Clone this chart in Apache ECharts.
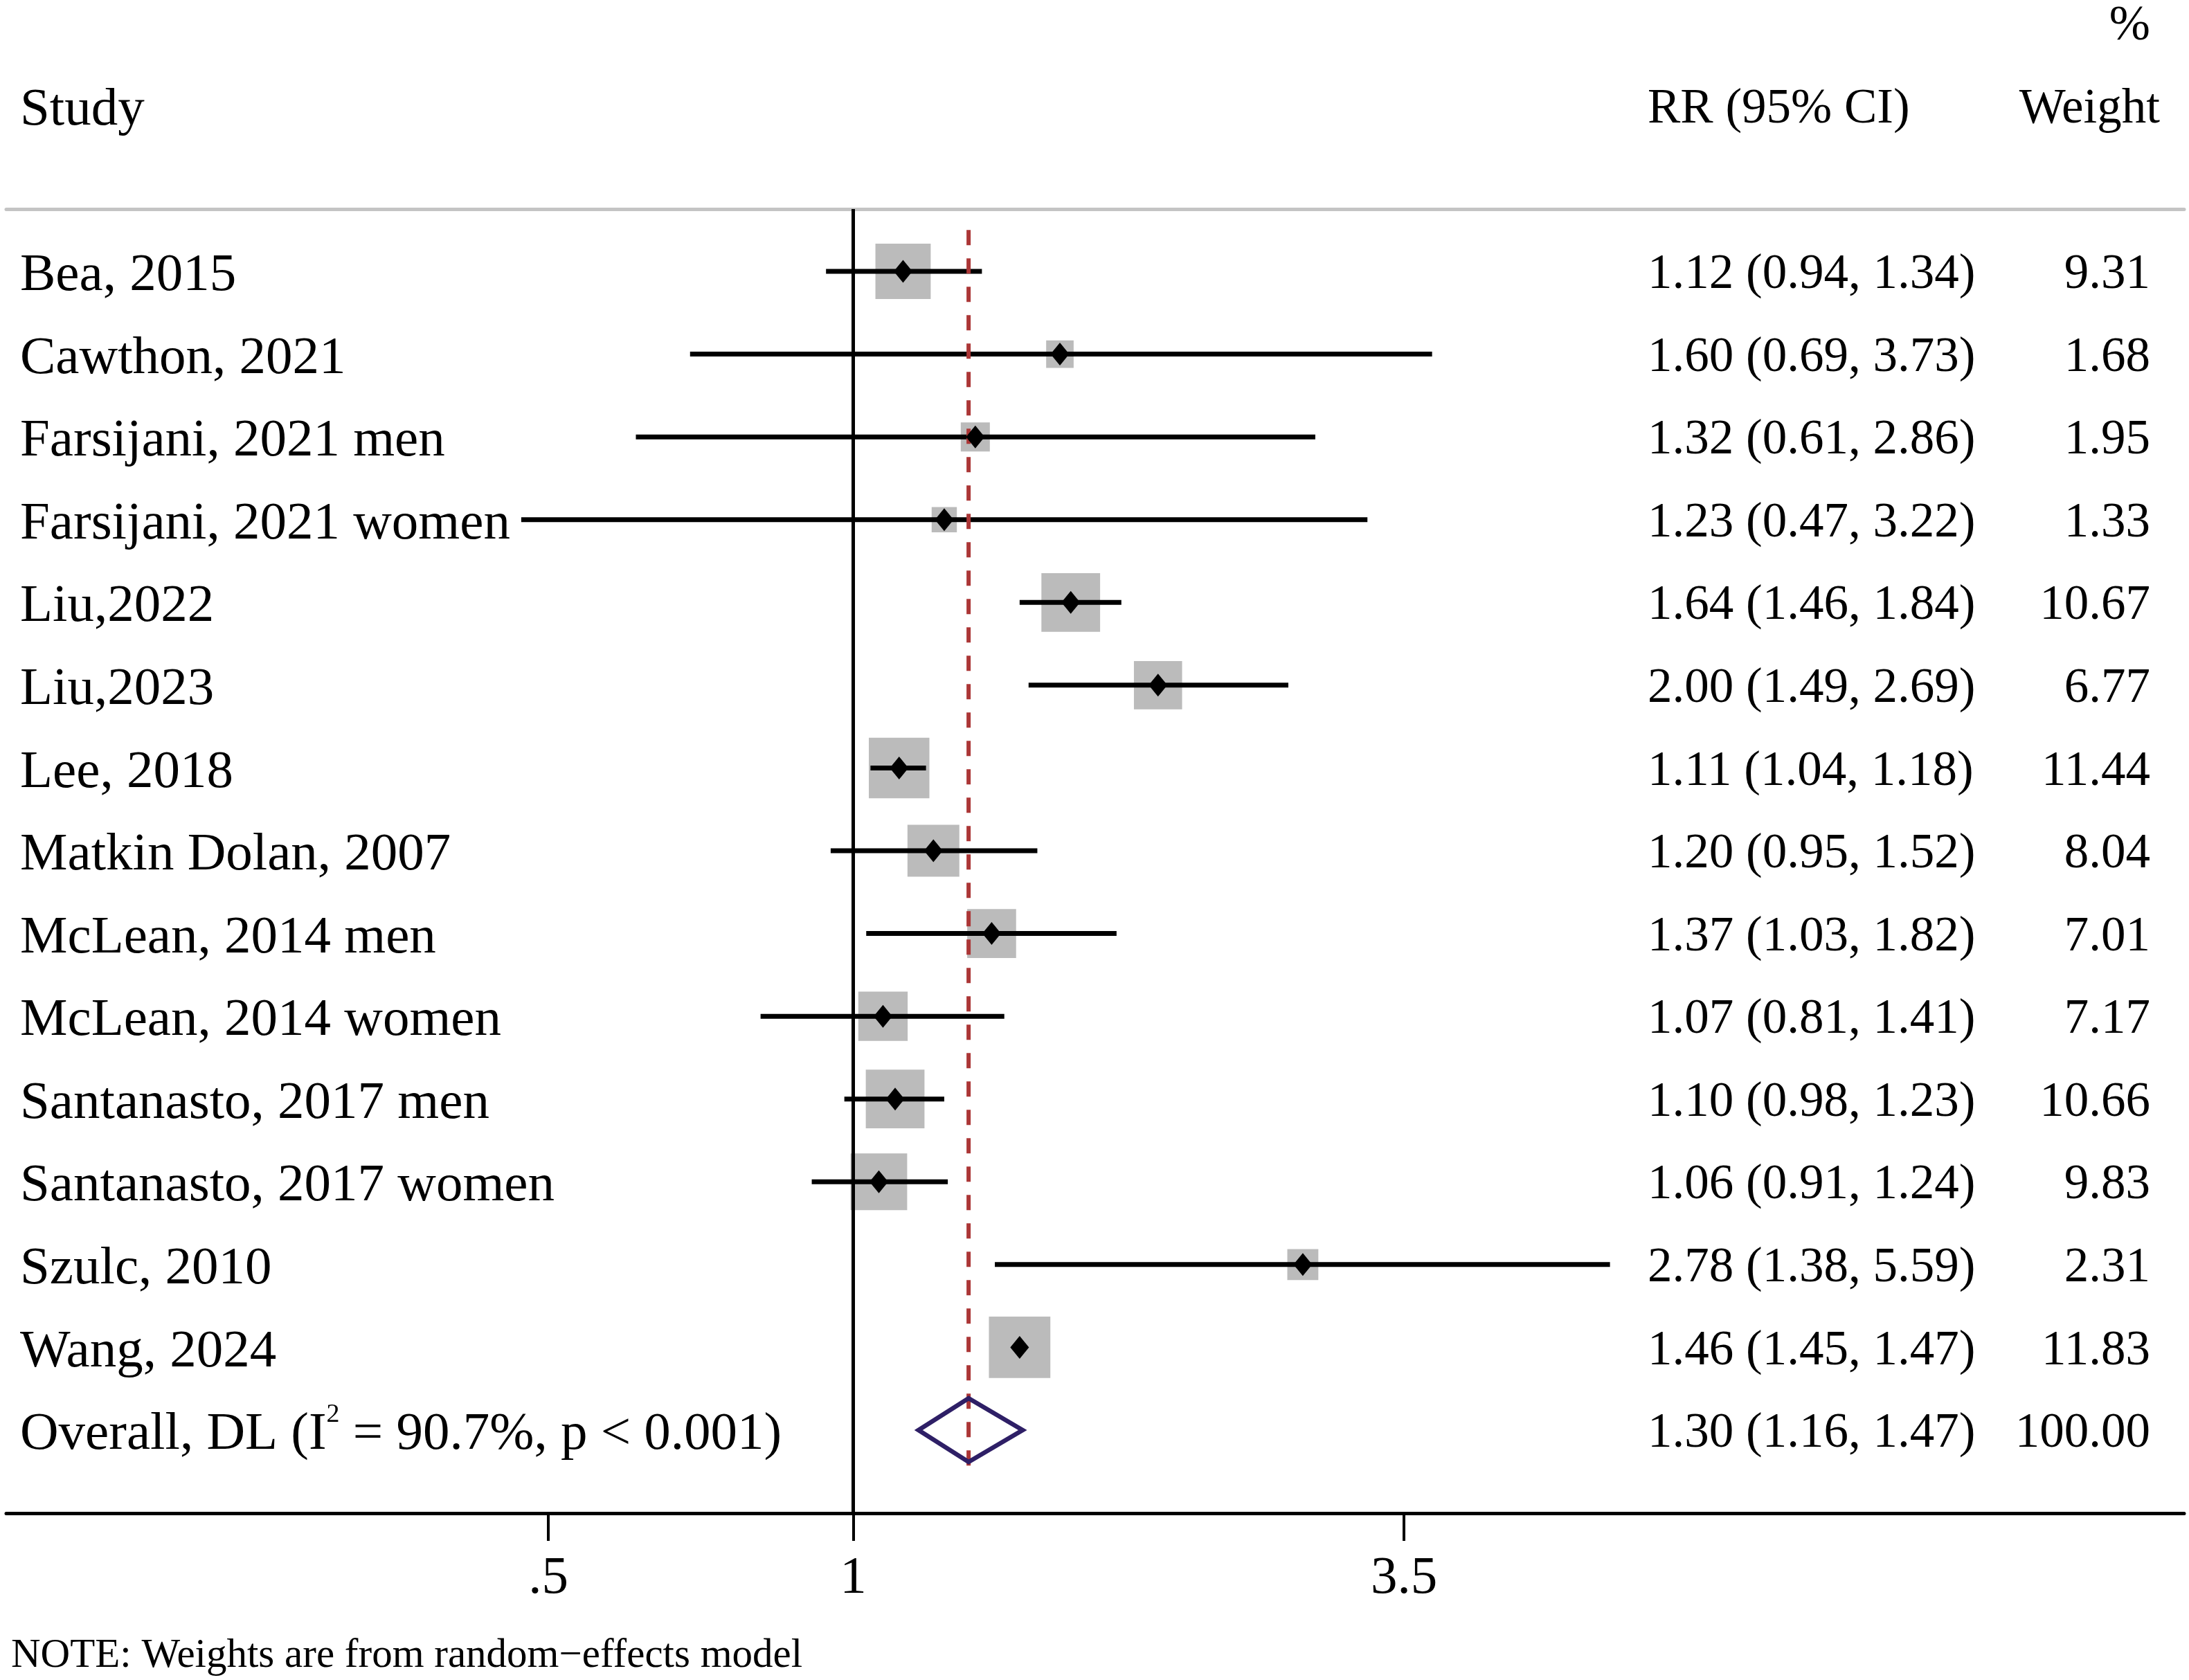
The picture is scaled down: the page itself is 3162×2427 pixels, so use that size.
<!DOCTYPE html>
<html>
<head>
<meta charset="utf-8">
<title>Forest plot</title>
<script src="https://cdn.jsdelivr.net/npm/echarts@6/dist/echarts.min.js"></script>
<style>
  html, body { margin: 0; padding: 0; background: #fff; }
  #chart { width: 3162px; height: 2427px; }
</style>
</head>
<body>
<div id="chart"></div>
<script>
// ---- data ----
const studies = [
  'Bea, 2015', 'Cawthon, 2021', 'Farsijani, 2021 men', 'Farsijani, 2021 women',
  'Liu,2022', 'Liu,2023', 'Lee, 2018', 'Matkin Dolan, 2007', 'McLean, 2014 men',
  'McLean, 2014 women', 'Santanasto, 2017 men', 'Santanasto, 2017 women',
  'Szulc, 2010', 'Wang, 2024'
];
const rr      = [1.12, 1.60, 1.32, 1.23, 1.64, 2.00, 1.11, 1.20, 1.37, 1.07, 1.10, 1.06, 2.78, 1.46];
const lower   = [0.94, 0.69, 0.61, 0.47, 1.46, 1.49, 1.04, 0.95, 1.03, 0.81, 0.98, 0.91, 1.38, 1.45];
const upper   = [1.34, 3.73, 2.86, 3.22, 1.84, 2.69, 1.18, 1.52, 1.82, 1.41, 1.23, 1.24, 5.59, 1.47];
const weights = [9.31, 1.68, 1.95, 1.33, 10.67, 6.77, 11.44, 8.04, 7.01, 7.17, 10.66, 9.83, 2.31, 11.83];
const overall = { rr: 1.30, lower: 1.16, upper: 1.47, weight: 100.00, i2: 90.7, p: '< 0.001' };
const xTicks = [0.5, 1, 3.5];
const note = 'NOTE: Weights are from random\u2212effects model';

// ---- layout ----
const FONT = '"Liberation Serif", "Times New Roman", serif';
const FONT_SIZE = 77;      // study column and axis
const FONT_SIZE_R = 71;    // right-hand columns are set a little tighter
const ROW_Y0 = 392, ROW_STEP = 119.57;   // pixel centre of first row and row spacing
const PLOT_TOP = 302, AXIS_Y = 2186;
const X_MIN = 0.1457, X_MAX = 20.63;
const rowAt = (px) => (px - ROW_Y0) / ROW_STEP;

const nRows = studies.length;
const rows = studies.map((_, i) => i);
const allRows = rows.concat([nRows]);
const fmt = (v) => v.toFixed(2);

const studyText = studies.concat([
  'Overall, DL (I{sup|2} = ' + overall.i2.toFixed(1) + '%, p ' + overall.p + ')'
]);
const rrAll = rr.concat([overall.rr]);
const loAll = lower.concat([overall.lower]);
const hiAll = upper.concat([overall.upper]);
const wAll = weights.concat([overall.weight]);

const chart = echarts.init(document.getElementById('chart'), null, { renderer: 'canvas' });

function textAxis(gridIndex, position, values, formatter, extra) {
  return {
    type: 'value', gridIndex, position, inverse: true,
    min: rowAt(0), max: rowAt(AXIS_Y),
    axisLine: { show: false, onZero: false },
    axisTick: { show: false },
    splitLine: { show: false },
    axisLabel: Object.assign({
      inside: true, margin: 20, customValues: values, formatter,
      color: '#000', fontFamily: FONT, fontSize: FONT_SIZE
    }, extra || {})
  };
}

const hiddenX = (gridIndex) => ({ type: 'value', gridIndex, show: false, min: 0, max: 1 });
const numStyle = { fontFamily: FONT, fontSize: FONT_SIZE_R, color: '#000' };

chart.setOption({
  animation: false,
  backgroundColor: '#fff',
  textStyle: { fontFamily: FONT, color: '#000' },
  title: {
    text: note, left: 16, top: 2363, padding: 0,
    textStyle: { fontFamily: FONT, fontSize: 59, fontWeight: 'normal', color: '#000', lineHeight: 59 }
  },
  grid: [
    { left: 9, right: 7, top: PLOT_TOP, height: AXIS_Y - PLOT_TOP, outerBoundsMode: 'none' },
    { left: 9, width: 10, top: 0, height: AXIS_Y, outerBoundsMode: 'none' },
    { left: 2360, width: 10, top: 0, height: AXIS_Y, outerBoundsMode: 'none' },
    { left: 3130, width: 10, top: 0, height: AXIS_Y, outerBoundsMode: 'none' }
  ],
  xAxis: [
    {
      type: 'log', logBase: Math.E, gridIndex: 0, position: 'bottom',
      min: X_MIN, max: X_MAX,
      axisLine: { onZero: false, lineStyle: { color: '#000', width: 5 } },
      axisTick: { customValues: xTicks, length: 40, lineStyle: { color: '#000', width: 4 } },
      axisLabel: {
        customValues: xTicks,
        formatter: (v) => String(+(+v).toPrecision(3)).replace(/^0\./, '.'),
        margin: 56, color: '#000', fontFamily: FONT, fontSize: FONT_SIZE
      },
      splitLine: { show: false },
      minorTick: { show: false }
    },
    {
      type: 'log', logBase: Math.E, gridIndex: 0, position: 'top',
      min: X_MIN, max: X_MAX,
      axisLine: { onZero: false, lineStyle: { color: '#c4c4c4', width: 5 } },
      axisTick: { show: false },
      axisLabel: { show: false },
      splitLine: { show: false }
    },
    hiddenX(1), hiddenX(2), hiddenX(3)
  ],
  yAxis: [
    {
      type: 'value', gridIndex: 0, inverse: true, show: false,
      min: rowAt(PLOT_TOP), max: rowAt(AXIS_Y),
      axisLine: { onZero: false }, splitLine: { show: false }
    },
    textAxis(1, 'left', [-2].concat(allRows),
      (v) => (Math.round(v) === -2 ? 'Study' : studyText[Math.round(v)]),
      {
        lineHeight: 95, padding: [14, 0, 0, 0],
        rich: { sup: { fontSize: 38, lineHeight: 38, verticalAlign: 'top', fontFamily: FONT, color: '#000' } }
      }),
    textAxis(2, 'left', [-2].concat(allRows), (v) => {
      const i = Math.round(v);
      if (i === -2) return '{n|RR (95% CI)}';
      return '{n|' + fmt(rrAll[i]) + ' (' + fmt(loAll[i]) + ', ' + fmt(hiAll[i]) + ')}';
    }, { fontSize: FONT_SIZE_R, padding: [11, 0, 0, 0], rich: { n: numStyle } }),
    textAxis(3, 'right', [-3, -2].concat(allRows), (v) => {
      const i = Math.round(v);
      if (i === -3) return '{n|%}';
      if (i === -2) return '{h|Weight}';
      return '{n|' + fmt(wAll[i]) + '}';
    }, {
      fontSize: FONT_SIZE_R, padding: [11, 0, 0, 0],
      rich: { n: Object.assign({ padding: [0, 14, 0, 0] }, numStyle), h: numStyle }
    })
  ],
  series: [
    {
      // weight boxes
      type: 'scatter', xAxisIndex: 0, yAxisIndex: 0, z: 2, silent: true,
      symbol: 'rect',
      symbolSize: (val) => 10 + 22.9 * Math.sqrt(val[2]),
      itemStyle: { color: '#bbbbbb', opacity: 1 },
      data: rows.map((i) => [rr[i], i, weights[i]]),
      markLine: {
        silent: true, animation: false,
        symbol: ['none', 'none'],
        label: { show: false },
        lineStyle: { color: '#000', width: 5, type: 'solid' },
        emphasis: { disabled: true },
        data: [{ xAxis: 1 }]
      }
    },
    {
      // confidence intervals
      type: 'custom', xAxisIndex: 0, yAxisIndex: 0, z: 3, silent: true,
      data: rows.map((i) => [lower[i], upper[i], i]),
      encode: { x: [0, 1], y: 2 },
      renderItem(params, api) {
        const a = api.coord([api.value(0), api.value(2)]);
        const b = api.coord([api.value(1), api.value(2)]);
        return {
          type: 'line',
          shape: { x1: a[0], y1: a[1], x2: b[0], y2: b[1] },
          style: { stroke: '#000', lineWidth: 7 }
        };
      }
    },
    {
      // overall estimate reference line
      type: 'line', xAxisIndex: 0, yAxisIndex: 0, z: 4, silent: true,
      symbol: 'none',
      data: [[overall.rr, -0.5], [overall.rr, nRows + 0.5]],
      lineStyle: { color: '#ab3636', width: 6, type: [22, 19] }
    },
    {
      // point estimates
      type: 'scatter', xAxisIndex: 0, yAxisIndex: 0, z: 5, silent: true,
      symbol: 'diamond', symbolSize: [27, 33],
      itemStyle: { color: '#000', opacity: 1 },
      data: rows.map((i) => [rr[i], i])
    },
    {
      // pooled diamond
      type: 'custom', xAxisIndex: 0, yAxisIndex: 0, z: 5, silent: true,
      data: [[overall.lower, overall.rr, overall.upper, nRows]],
      encode: { x: [0, 1, 2], y: 3 },
      renderItem(params, api) {
        const y = api.value(3);
        const l = api.coord([api.value(0), y]);
        const c = api.coord([api.value(1), y]);
        const r = api.coord([api.value(2), y]);
        const h = 46;
        return {
          type: 'polygon',
          shape: { points: [[l[0], l[1]], [c[0], c[1] - h], [r[0], r[1]], [c[0], c[1] + h]] },
          style: { fill: 'none', stroke: '#2e1f66', lineWidth: 6.5, lineJoin: 'miter' }
        };
      }
    }
  ]
});

window.addEventListener('resize', () => chart.resize());
</script>
</body>
</html>
